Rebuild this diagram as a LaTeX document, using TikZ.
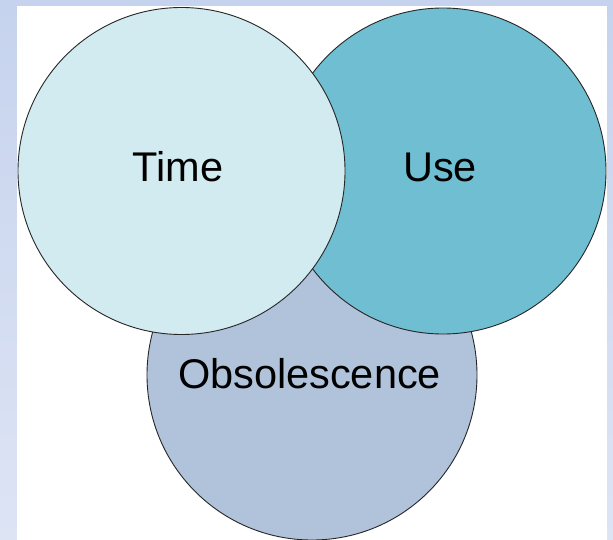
\documentclass[tikz,border=0pt]{standalone}
\usepackage{fontspec}
\setmainfont{Liberation Sans}
\usepackage{tikz}
\usetikzlibrary{positioning}
\definecolor{timefill}{HTML}{D1EBF0}
\definecolor{usefill}{HTML}{6FBED2}
\definecolor{obsofill}{HTML}{B0C3DB}
\definecolor{bgtop}{HTML}{C6D3EE}
\definecolor{bgbottom}{HTML}{DDE4F4}
\tikzset{
    venn/.style={
        draw=black!85,
        circle,
        line width=0.9pt,
        inner sep=0pt
    },
    vennlabel/.style={
        inner sep=0pt,
        font=\fontsize{41.5}{50}\selectfont
    }
}

\begin{document}
\begin{tikzpicture}[x=1pt,y=-1pt]
  \useasboundingbox (0,0) rectangle (613,540);
  % Slide background
  \shade[top color=bgtop, bottom color=bgbottom] (0,0) rectangle (613,540);
  \fill[white] (17,6) rectangle (607,540);

  % Circles
  \node[venn, fill=obsofill, minimum size=330pt] (obso) at (312,375) {};
  \node[venn, fill=usefill, minimum size=326pt] (use) at (443,171) {};
  \node[venn, fill=timefill, minimum size=327pt] (time) at (181.5,171) {};

  % Labels
  \node[vennlabel] (obsotext) at ([shift={(-2.5,-1)}]obso.center) {Obsolescence};
  \node[vennlabel] (usetext) at ([shift={(-3,-4)}]use.center) {Use};
  \node[vennlabel] (timetext) at ([shift={(-3.5,-4)}]time.center) {Time};
\end{tikzpicture}
\end{document}
